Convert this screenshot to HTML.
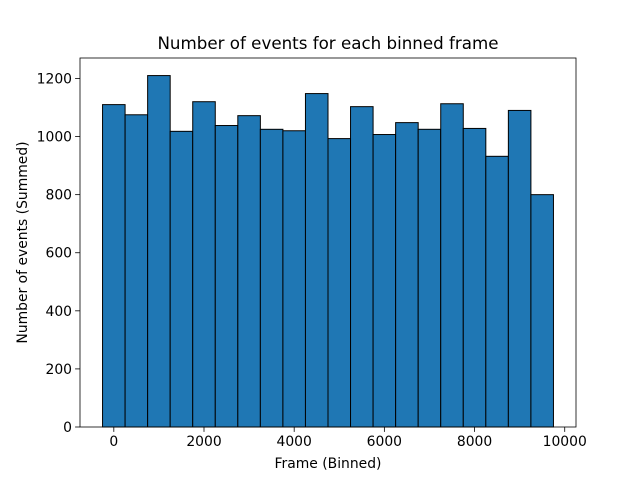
<!DOCTYPE html>
<html><head><meta charset="utf-8"><style>
body{margin:0;background:#fff}
svg text{font-family:"DejaVu Sans","Liberation Sans",sans-serif;fill:#000}
</style></head><body>
<svg id="chart" width="640" height="480" xmlns="http://www.w3.org/2000/svg">
<rect width="640" height="480" fill="#fff"/>
<g id="bars"></g>
<g id="xticks"></g>
<g id="yticks"></g>
<rect x="80" y="58" width="496" height="369" fill="none" stroke="#000" stroke-width="0.8"/>
<text x="328" y="49" font-size="16.7" text-anchor="middle">Number of events for each binned frame</text>
<text x="328" y="468" font-size="13.9" text-anchor="middle">Frame (Binned)</text>
<text transform="translate(27,242.5) rotate(-90)" font-size="13.9" text-anchor="middle">Number of events (Summed)</text>
</svg>
<script>
const binStarts=[-250,250,750,1250,1750,2250,2750,3250,3750,4250,4750,5250,5750,6250,6750,7250,7750,8250,8750,9250];
const counts=[1110,1075,1210,1018,1120,1038,1072,1025,1020,1148,993,1103,1007,1048,1025,1113,1028,932,1090,800];
const binWidth=500;
const xTicks=[0,2000,4000,6000,8000,10000];
const yTicks=[0,200,400,600,800,1000,1200];
const X0=80,X1=576,Y0=427,Y1=58;
const xmin=-750,xmax=10250,ymin=0,ymax=1270.5;
const sx=v=>X0+(v-xmin)/(xmax-xmin)*(X1-X0);
const sy=v=>Y0-(v-ymin)/(ymax-ymin)*(Y0-Y1);
const NS="http://www.w3.org/2000/svg";
const bars=document.getElementById('bars');
binStarts.forEach((b,i)=>{
 const r=document.createElementNS(NS,'rect');
 
 
 const x=sx(b),w=sx(b+binWidth)-x,y=sy(counts[i]);
 r.setAttribute('x',x);r.setAttribute('y',y);r.setAttribute('width',w);r.setAttribute('height',Y0-y);
 r.setAttribute('fill','#1f77b4');r.setAttribute('stroke','#000');r.setAttribute('stroke-width','1');
 bars.appendChild(r);
});
const xt=document.getElementById('xticks');
xTicks.forEach(t=>{
 const x=sx(t);
 const l=document.createElementNS(NS,'line');
 
 
 l.setAttribute('x1',x);l.setAttribute('x2',x);l.setAttribute('y1',Y0);l.setAttribute('y2',Y0+4.9);l.setAttribute('stroke','#000');l.setAttribute('stroke-width','0.8');
 xt.appendChild(l);
 const s=document.createElementNS(NS,'text');
 
 
 s.setAttribute('x',x);s.setAttribute('y',Y0+19);s.setAttribute('font-size','13.9');s.setAttribute('text-anchor','middle');
 s.textContent=t;xt.appendChild(s);
});
const yt=document.getElementById('yticks');
yTicks.forEach(t=>{
 const y=sy(t);
 const l=document.createElementNS(NS,'line');
 
 
 l.setAttribute('x1',X0-4.9);l.setAttribute('x2',X0);l.setAttribute('y1',y);l.setAttribute('y2',y);l.setAttribute('stroke','#000');l.setAttribute('stroke-width','0.8');
 yt.appendChild(l);
 const s=document.createElementNS(NS,'text');
 
 
 s.setAttribute('x',X0-8);s.setAttribute('y',y+5);s.setAttribute('font-size','13.9');s.setAttribute('text-anchor','end');
 s.textContent=t;yt.appendChild(s);
});
</script>
</body></html>
